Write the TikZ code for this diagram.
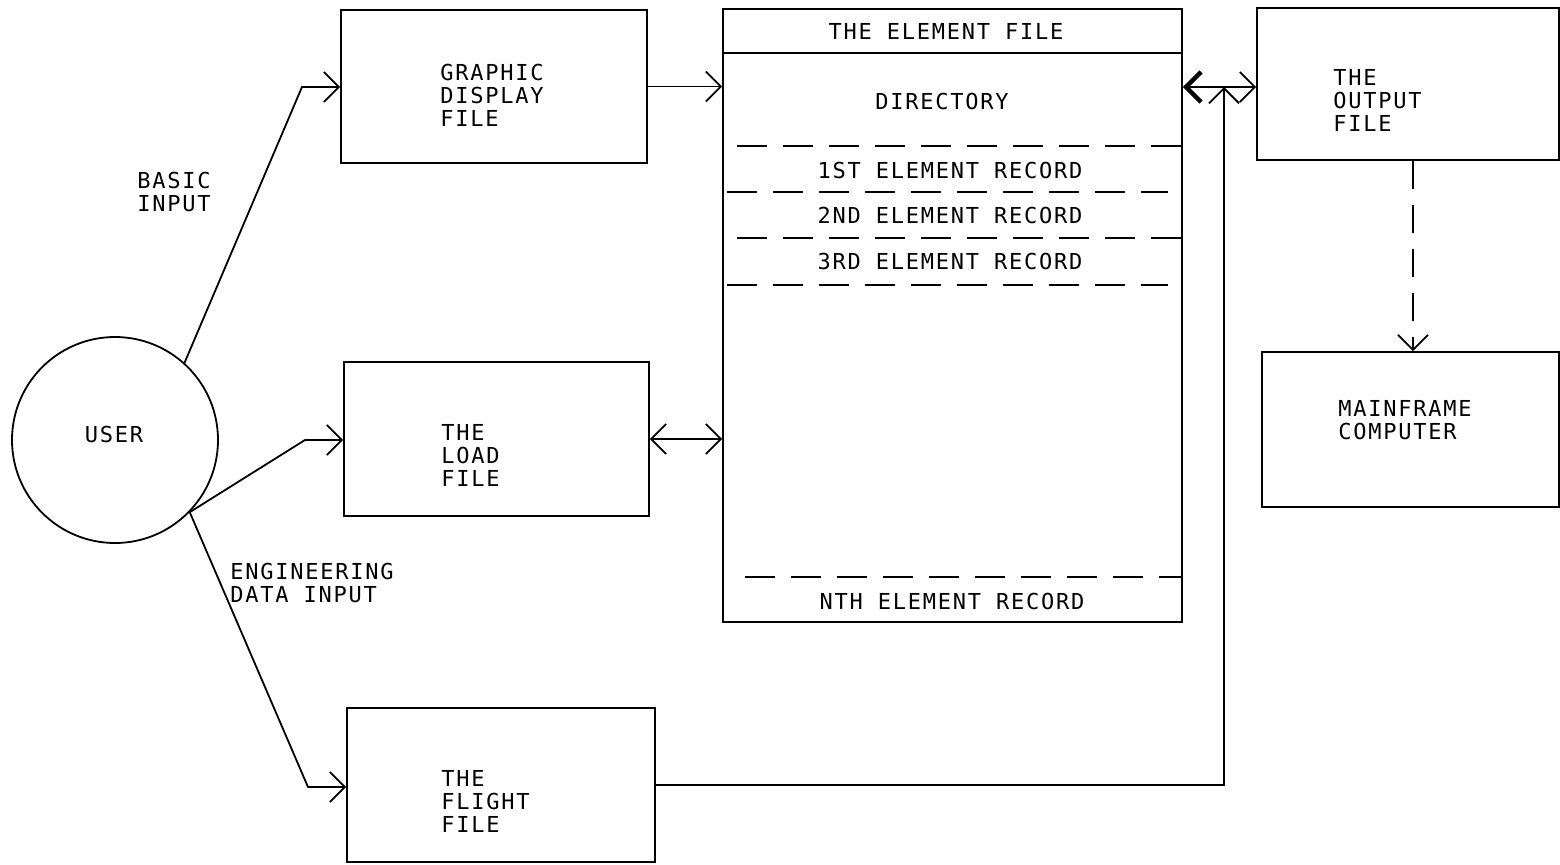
\documentclass[tikz,border=0pt]{standalone}
\usepackage{fontspec}
\usetikzlibrary{arrows.meta,calc}
\newfontfamily\plotfont[LetterSpace=8]{DejaVu Sans Mono}
\tikzset{
  box/.style={draw, line width=0.9pt, rectangle, inner sep=0pt},
  lbl/.style={font=\plotfont\fontsize{11pt}{11.5pt}\selectfont, inner sep=0pt, align=left},
  clbl/.style={font=\plotfont\fontsize{11pt}{11.5pt}\selectfont, inner sep=0pt, align=center},
  conn/.style={line width=0.9pt},
  tip/.style={-{Straight Barb[length=7.5pt,width=15pt,line width=0.9pt]}},
  dsh/.style={line width=0.9pt, dash pattern=on 15pt off 8pt},
}
\begin{document}
\begin{tikzpicture}[x=0.5pt,y=-0.5pt]
\useasboundingbox (0,0) rectangle (1560,864);

% boxes
\node[box, minimum width=153pt, minimum height=76.5pt] (gd) at (494,86.5) {};
\node[box, minimum width=152.5pt, minimum height=77pt] (ld) at (496.5,439) {};
\node[box, minimum width=154pt, minimum height=77pt] (fl) at (501,785) {};
\node[box, minimum width=229.5pt, minimum height=306.5pt] (el) at (952.5,315.5) {};
\node[box, minimum width=151pt, minimum height=76pt] (out) at (1408,84) {};
\node[box, minimum width=148.5pt, minimum height=77.5pt] (mf) at (1410.5,429.5) {};
\node[draw, circle, line width=0.9pt, minimum size=103pt, inner sep=0pt] (user) at (115,440) {};

% texts in boxes
\node[lbl, anchor=west] (gdt) at (440,95) {GRAPHIC\\DISPLAY\\FILE};
\node[lbl, anchor=west] (ldt) at (441,455) {THE\\LOAD\\FILE};
\node[lbl, anchor=west] (flt) at (441,801) {THE\\FLIGHT\\FILE};
\node[lbl, anchor=west] (outt) at (1333,100) {THE\\OUTPUT\\FILE};
\node[lbl, anchor=west] (mft) at (1338,420) {MAINFRAME\\COMPUTER};
\node[clbl] (usert) at (114,434) {USER};
\node[lbl, anchor=west] (basic) at (137,192) {BASIC\\INPUT};
\node[lbl, anchor=west] (eng) at (230,583) {ENGINEERING\\DATA INPUT};

% element file internals
\draw[conn] (el.west |- 0,53) -- (el.east |- 0,53);
\node[clbl] (elt) at (946,31) {THE ELEMENT FILE};
\node[clbl] (dir) at (942,101) {DIRECTORY};
\node[clbl] (r1) at (950,170) {1ST ELEMENT RECORD};
\node[clbl] (r2) at (950,215) {2ND ELEMENT RECORD};
\node[clbl] (r3) at (950,261) {3RD ELEMENT RECORD};
\node[clbl] (rn) at (952,601) {NTH ELEMENT RECORD};
\draw[dsh] (737,146) -- (el.east |- 0,146);
\draw[dsh] (727,192) -- (1168,192);
\draw[dsh] (737,238) -- (el.east |- 0,238);
\draw[dsh] (727,285) -- (1168,285);
\draw[dsh] (745,577) -- (el.east |- 0,577);

% connectors
\coordinate (k1) at (302,87);
\coordinate (k2) at (305,440);
\coordinate (k3) at (308,787);
\draw[conn, tip] (user.48) -- (k1) -- (k1 -| gd.west);
\draw[conn, tip] (user.-44) -- (k2) -- (k2 -| ld.west);
\draw[conn, tip] (user.-44) -- (k3) -- (k3 -| fl.west);
\draw[conn, tip] (gd.east) -- (gd.east -| el.west);
\draw[conn, {Straight Barb[length=7.5pt,width=15pt,line width=0.9pt]}-{Straight Barb[length=7.5pt,width=15pt,line width=0.9pt]}] (ld.east) -- (ld.east -| el.west);
\coordinate (m) at (1224,87);
\draw[conn, {Straight Barb[length=7.5pt,width=15pt,line width=2.2pt]}-{Straight Barb[length=7.5pt,width=15pt,line width=0.9pt]}] (m -| el.east) -- (m -| out.west);
\coordinate (fc) at (1224,785);
\draw[conn, tip] (fl.east) -- (fl.east -| fc) -- (m);
\draw[conn, tip, dash pattern=on 14pt off 8pt] (out.south -| 1413,0) -- (mf.north -| 1413,0);
\end{tikzpicture}
\end{document}
